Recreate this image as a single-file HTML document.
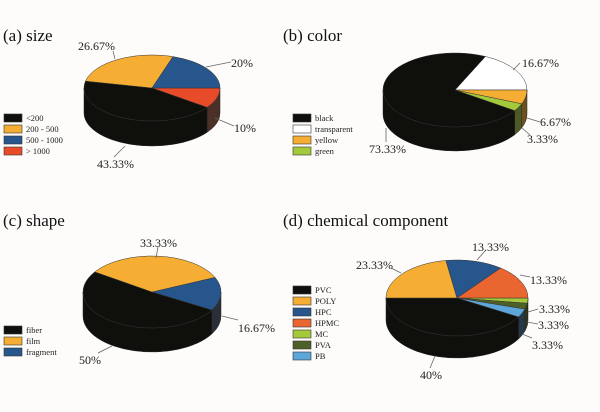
<!DOCTYPE html>
<html><head><meta charset="utf-8"><style>
body{margin:0;background:#fdfcfb;}
svg{display:block;font-family:"Liberation Serif",serif;}
</style></head><body>
<svg id="s" width="600" height="412" viewBox="0 0 600 412" xmlns="http://www.w3.org/2000/svg">
<g font-size="17" fill="#111">
<text x="3" y="41">(a) size</text>
<text x="283" y="41">(b) color</text>
<text x="3" y="226">(c) shape</text>
<text x="283" y="226">(d) chemical component</text>
</g>
<g id="pies"></g>
<g font-size="12" fill="#222">
<text x="78" y="50">26.67%</text><text x="231" y="67">20%</text><text x="234" y="132">10%</text><text x="97" y="168">43.33%</text>
<text x="522" y="67">16.67%</text><text x="540" y="126">6.67%</text><text x="527" y="143">3.33%</text><text x="369" y="153">73.33%</text>
<text x="140" y="247">33.33%</text><text x="238" y="332">16.67%</text><text x="79" y="364">50%</text>
<text x="472" y="251">13.33%</text><text x="530" y="284">13.33%</text><text x="356" y="269">23.33%</text><text x="539" y="313">3.33%</text><text x="538" y="329">3.33%</text><text x="532" y="349">3.33%</text><text x="420" y="379">40%</text>
</g>
<g stroke="#666" stroke-width="0.8" fill="none">
<path d="M113,51 L115,59"/><path d="M206,67 L231,62"/><path d="M215,118 L234,126"/><path d="M125,146 L114,157"/>
<path d="M520,63 L513,70"/><path d="M527,118 L540,122"/><path d="M522,128 L530,135"/><path d="M386,128 L386,142"/>
<path d="M158,247 L156,258"/><path d="M222,316 L238,320"/><path d="M112,346 L98,353"/>
<path d="M485,251 L477,260"/><path d="M520,275 L530,277"/><path d="M391,268 L401,273"/><path d="M528,312 L538,309"/><path d="M527,322 L538,324"/><path d="M522,334 L532,338"/><path d="M435,356 L430,368"/>
</g>
<g id="leg" font-size="8.5" fill="#222"></g>
</svg>
<script>
var NS="http://www.w3.org/2000/svg";
function el(p,t,a){var e=document.createElementNS(NS,t);for(var k in a)e.setAttribute(k,a[k]);p.appendChild(e);return e;}
var G=document.getElementById('pies');
function pt(cx,cy,rx,ry,a){a=a*Math.PI/180;return [cx+rx*Math.cos(a),cy+ry*Math.sin(a)];}
function pie(cx,cy,rx,ry,d,sl){
  // sides
  sl.forEach(function(s){
    var a1=s[0],a2=s[1];
    for(var off=-360;off<=360;off+=360){
      var b1=Math.max(a1+off,0),b2=Math.min(a2+off,180);
      if(b2>b1){
        var p1=pt(cx,cy,rx,ry,b1),p2=pt(cx,cy,rx,ry,b2);
        var path="M"+p1+" A"+rx+","+ry+" 0 0 1 "+p2+" L"+p2[0]+","+(p2[1]+d)+" A"+rx+","+ry+" 0 0 0 "+p1[0]+","+(p1[1]+d)+"Z";
        el(G,'path',{d:path,fill:s[3],stroke:'#222','stroke-width':0.5});
      }
    }
  });
  sl.forEach(function(s){
    var p1=pt(cx,cy,rx,ry,s[0]),p2=pt(cx,cy,rx,ry,s[1]);
    var large=(s[1]-s[0])>180?1:0;
    el(G,'path',{d:"M"+cx+","+cy+" L"+p1+" A"+rx+","+ry+" 0 "+large+" 1 "+p2+"Z",fill:s[2],stroke:'#333','stroke-width':0.5});
  });
}
var K='#0f100c',Y='#f5ae33',B='#26568c',R='#e84b2a';
pie(152,88,68,33,25,[[0,36,R,'#4b3028'],[36,192,K,K],[192,288,Y,'#7a5a20'],[288,360,B,'#1a2a40']]);
pie(455,90,72,37,24,[[-65,0,'#fff','#ccc'],[0,22,Y,'#6e5020'],[22,34,'#a4c93a','#4d5a25'],[34,295,K,K]]);
pie(152,292,69,36,24,[[-24,30,B,'#2a2e36'],[30,214,K,K],[214,336,Y,'#7a5a20']]);
pie(457,298,71,38,22,[[0,8,'#a4c93a','#3e4a20'],[8,17,'#4e6028','#2e3a1a'],[17,30,'#5ea5d9','#24384a'],[30,180,K,K],[180,261,Y,'#7a5a20'],[261,308,B,'#1a2a40'],[308,360,'#ea6630','#5a3020']]);
var L=document.getElementById('leg');
function leg(x,y0,items){items.forEach(function(it,i){var y=y0+i*11;el(L,'rect',{x:x,y:y-4,width:18,height:8,fill:it[1],stroke:'#333','stroke-width':0.6});var t=el(L,'text',{x:x+22,y:y+3});t.textContent=it[0];});}
leg(4,118,[['<200',K],['200 - 500',Y],['500 - 1000',B],['> 1000',R]]);
leg(293,118,[['black',K],['transparent','#fff'],['yellow',Y],['green','#a4c93a']]);
leg(4,330,[['fiber',K],['film',Y],['fragment',B]]);
leg(293,290,[['PVC',K],['POLY',Y],['HPC',B],['HPMC','#ea6630'],['MC','#a4c93a'],['PVA','#4e6028'],['PB','#5ea5d9']]);
</script>
</body></html>
